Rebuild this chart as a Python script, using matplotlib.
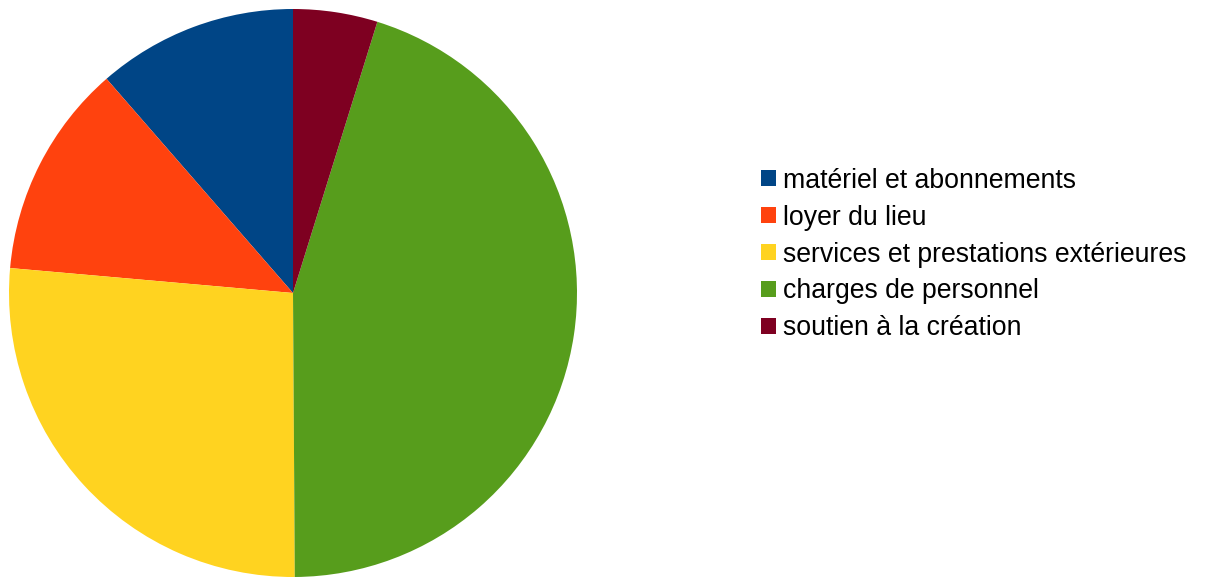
import matplotlib
matplotlib.use("Agg")
import matplotlib.pyplot as plt
from matplotlib.patches import Patch

# shares (percent)
labels = ["matériel et abonnements", "loyer du lieu",
          "services et prestations extérieures", "charges de personnel",
          "soutien à la création"]
shares = [11.4, 12.2, 26.5, 45.1, 4.8]
colors = ["#004586", "#ff420e", "#ffd320", "#579d1c", "#7e0021"]

plt.rcParams['font.family'] = ['Liberation Sans', 'DejaVu Sans']

fig = plt.figure(figsize=(12.08, 5.77), dpi=100)
# pie box: centre (293, 293) px, radius 284 px
ax = fig.add_axes([9 / 1208, 0, 568 / 1208, 568 / 577])
ax.pie(shares, colors=colors, startangle=90, counterclock=True,
       wedgeprops=dict(linewidth=0))
ax.set_aspect('equal')
ax.set_xlim(-1, 1)
ax.set_ylim(-1, 1)

handles = [Patch(facecolor=c, edgecolor='none') for c in colors]
fig.legend(handles, labels, loc='upper left', bbox_to_anchor=(750.5 / 1208, 1 - 157 / 577),
           frameon=False, fontsize=19.2, handlelength=0.56, handleheight=0.53,
           handletextpad=0.26, labelspacing=0.41, borderaxespad=0)

fig.savefig("out.png", dpi=100)
